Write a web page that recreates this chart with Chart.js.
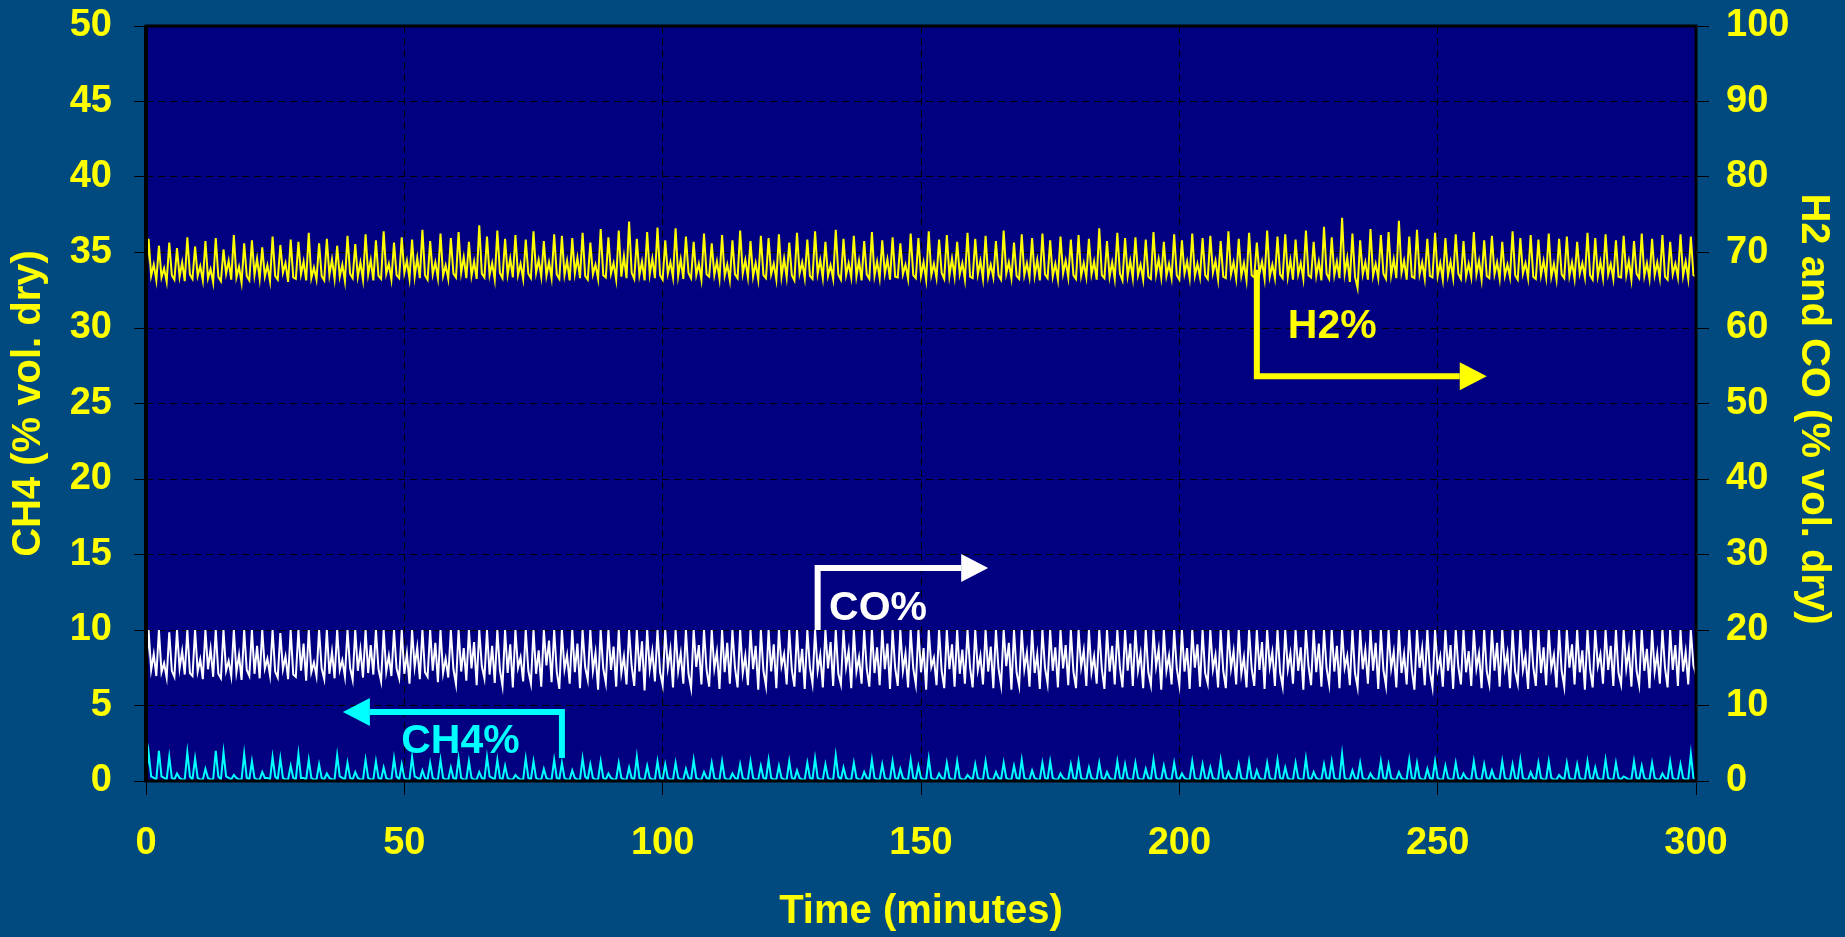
<!DOCTYPE html>
<html>
<head>
<meta charset="utf-8">
<title>Syngas composition</title>
<script src="https://cdn.jsdelivr.net/npm/chart.js@4.4.1/dist/chart.umd.min.js"></script>
<style>
  html, body { margin: 0; padding: 0; background: #004a80; }
  #wrap { width: 1845px; height: 937px; }
</style>
</head>
<body>
<div id="wrap"><canvas id="gasChart" width="1845" height="937"></canvas></div>
<script>
// one reading every half minute, 0 .. 300 min
const sampleStep = 0.5;

// H2 % vol. dry (right axis)
const h2 = [
  66.2,71.8,66.9,68.4,66.3,70.9,66.7,67.9,66.1,71.3,67.0,66.4,70.6,66.8,68.7,66.2,72.0,67.1,66.5,70.8,
  66.9,68.2,66.3,71.5,66.6,67.8,66.0,71.9,66.8,66.2,70.4,67.2,68.9,66.4,72.3,66.7,68.1,66.0,71.2,66.9,
  66.3,71.6,67.0,69.2,66.5,70.7,66.8,68.3,66.2,72.1,66.9,66.4,71.0,67.3,68.6,66.1,71.7,66.7,66.5,71.4,
  67.1,68.8,66.3,72.6,66.6,68.0,66.4,71.2,66.9,66.3,71.8,67.0,69.1,66.5,70.9,66.8,68.4,66.2,72.2,67.2,
  66.6,71.1,66.8,68.7,66.4,72.4,67.1,69.0,66.3,71.6,66.9,66.5,72.8,67.2,68.5,66.4,71.3,67.0,66.6,72.0,
  67.3,68.9,66.5,71.7,66.8,69.3,66.6,73.0,67.0,66.4,71.5,67.1,68.7,66.6,72.5,66.9,68.3,66.5,71.9,67.2,
  66.7,72.7,67.3,69.4,66.6,71.4,66.9,68.8,66.5,73.6,67.2,66.7,72.1,67.0,68.6,66.4,72.9,67.3,66.6,71.8,
  67.1,69.2,66.7,72.3,67.0,68.5,66.5,71.7,67.2,66.6,72.8,67.3,69.0,66.8,71.5,66.9,68.7,66.6,72.4,67.1,
  66.5,72.2,67.0,68.9,66.3,71.9,67.2,69.3,66.6,72.6,66.9,66.4,71.3,67.1,68.4,66.5,73.1,67.0,66.7,72.0,
  67.2,68.6,66.4,72.9,66.8,69.5,66.6,74.1,67.3,66.5,71.8,67.0,68.8,66.3,72.7,67.1,69.2,66.6,73.3,67.0,
  66.4,71.6,67.2,68.7,66.7,73.2,66.9,69.1,66.5,72.1,67.3,66.6,71.4,67.0,68.5,66.4,72.5,67.1,66.8,71.2,
  67.0,68.8,66.5,72.3,66.9,68.4,66.3,71.6,67.1,66.6,72.9,67.2,69.0,66.7,71.5,66.8,68.6,66.4,72.2,67.0,
  66.6,71.9,67.1,68.5,66.4,72.4,66.8,69.2,66.7,71.3,67.0,66.3,72.6,67.2,68.7,66.6,71.7,66.9,66.5,72.8,
  67.2,69.0,66.6,71.4,66.9,68.3,66.5,73.0,67.1,66.4,71.8,67.0,68.6,66.7,72.2,66.8,68.9,66.3,71.5,67.1,
  66.5,72.7,66.9,68.8,66.6,71.6,67.2,69.1,66.4,72.0,66.8,66.7,71.2,67.1,68.4,66.5,72.5,67.0,66.6,71.9,
  66.9,68.7,66.4,72.8,67.0,68.5,66.6,71.7,67.3,66.5,72.3,66.9,69.2,66.8,71.4,67.1,68.6,66.4,72.6,66.8,
  66.6,71.8,67.1,68.9,66.5,72.2,66.8,68.4,66.7,71.5,67.0,66.4,72.9,67.2,68.7,66.6,71.3,66.9,66.5,72.4,
  67.0,68.6,66.7,71.9,66.9,69.0,66.3,72.5,67.1,66.6,71.6,66.8,68.5,66.4,72.1,67.2,68.9,66.7,71.7,67.0,
  66.5,72.3,66.9,68.6,66.7,71.8,67.1,68.8,66.4,73.2,67.0,66.6,71.5,66.8,68.7,66.5,72.6,67.2,66.3,71.9,
  66.9,68.9,66.6,72.0,67.0,68.4,66.4,71.7,66.8,66.5,72.7,67.1,69.1,66.7,71.4,66.9,68.5,66.6,72.4,67.0,
  66.4,71.6,67.2,68.8,66.6,72.5,66.9,68.5,66.7,71.9,67.0,66.5,72.2,67.3,68.9,66.4,71.5,66.8,66.6,72.8,
  67.1,68.7,66.5,71.8,66.9,68.6,66.3,72.6,67.0,66.7,71.3,67.2,68.8,66.5,72.9,66.8,68.4,66.6,72.1,67.1,
  66.6,72.4,66.8,69.0,66.4,71.7,67.1,68.6,66.5,72.9,67.0,66.7,71.4,66.9,68.8,66.3,73.4,67.2,66.5,72.0,
  67.0,68.8,66.6,74.6,67.2,69.3,66.1,72.5,66.8,65.3,71.6,67.1,68.7,66.4,73.1,66.9,68.5,66.6,72.3,67.2,
  66.5,72.7,67.0,69.1,66.6,74.2,67.3,68.9,66.4,72.1,66.8,66.6,73.0,67.1,68.7,66.5,71.8,66.9,66.7,72.6,
  66.9,68.6,66.4,71.9,67.0,68.8,66.6,72.4,67.2,66.5,71.5,66.8,68.5,66.7,72.7,67.1,68.9,66.4,71.6,66.9,
  66.6,72.2,67.1,68.7,66.5,71.4,66.9,68.4,66.7,72.8,67.0,66.4,71.9,67.2,68.6,66.6,72.3,66.8,66.5,71.7,
  67.0,68.9,66.7,72.5,66.8,68.5,66.4,71.8,67.1,66.6,72.1,66.9,68.7,66.5,71.4,67.2,68.6,66.7,72.6,67.0,
  66.4,71.9,66.9,68.8,66.6,72.4,67.1,68.5,66.5,71.6,66.8,66.7,72.2,67.0,68.9,66.4,71.5,67.2,66.6,72.5,
  66.9,68.6,66.5,71.8,67.0,68.7,66.6,72.3,66.8,66.4,71.4,67.1,68.5,66.7,72.4,66.9,68.8,66.5,72.1,67.0,
  66.8
];

// CO % vol. dry (right axis)
const co = [
  13.6,20,14.7,16.8,13.9,20,14.4,15.6,13.7,19.7,14.6,13.8,20,14.9,17.2,14.1,20,14.3,13.9,20,
  14.5,16.1,13.5,20,14.8,17.5,13.8,20,14.2,13.6,20,14.6,15.9,13.9,20,14.4,16.7,13.4,20,14.7,
  13.9,20,14.2,17.9,13.6,20,14.9,16.2,14.0,20,14.5,13.7,19.6,14.8,16.5,13.5,20,14.1,13.8,20,
  14.6,18.2,13.3,20,14.4,15.7,13.9,20,14.9,13.5,20,14.2,17.1,13.6,20,14.7,16.0,13.8,20,15.0,
  13.4,20,14.6,17.4,13.7,20,14.3,18.0,14.1,20,14.8,13.2,20,14.5,16.6,13.9,20,14.9,13.6,20,
  14.2,16.9,12.9,20,15.1,17.7,13.5,20,14.4,13.8,20,14.6,18.3,13.1,20,14.3,16.2,13.7,20,14.8,
  12.8,20,14.5,17.6,13.3,20,14.9,18.4,12.7,20,15.2,13.6,20,14.1,17.9,13.0,20,14.7,12.6,20,
  14.3,18.1,12.4,20,15.0,16.4,13.2,20,14.6,12.9,20,14.2,17.3,12.5,20,15.3,18.6,13.1,20,14.5,
  12.2,20,14.8,16.7,12.9,20,14.4,18.2,12.3,20,15.1,13.4,20,14.6,17.0,12.1,20,14.9,13.0,20,
  14.7,17.8,12.5,20,14.3,16.5,12.8,20,15.2,12.6,20,14.5,18.5,12.0,20,14.8,17.2,13.2,20,14.4,
  12.7,20,15.0,17.4,12.4,20,14.6,16.9,12.9,20,14.2,12.3,20,15.1,18.0,12.8,20,14.7,12.5,20,
  14.9,17.1,12.2,20,14.4,18.3,12.9,20,15.0,12.4,20,14.3,16.6,12.7,20,14.8,17.9,12.1,20,14.6,
  12.6,20,14.5,18.1,12.3,20,15.2,16.8,12.8,20,14.7,12.5,20,14.4,17.5,12.2,20,15.0,12.9,20,
  14.6,16.7,12.4,20,14.9,18.4,12.6,20,14.2,12.8,20,15.1,17.3,12.3,20,14.5,16.4,12.9,20,14.8,
  12.5,20,14.3,17.7,12.7,20,14.8,18.2,12.2,20,15.0,12.6,20,14.6,16.9,12.4,20,14.9,12.8,20,
  14.4,17.6,12.1,20,15.1,16.3,12.7,20,14.6,12.3,20,14.8,18.1,12.5,20,14.2,17.4,12.9,20,15.0,
  12.4,20,14.7,16.6,12.8,20,14.5,17.8,12.3,20,14.9,12.7,20,15.2,18.3,12.1,20,14.4,12.6,20,
  14.8,17.0,12.5,20,14.3,16.8,12.2,20,15.0,12.9,20,14.6,17.7,12.4,20,14.9,18.0,12.7,20,14.5,
  12.3,20,15.1,17.3,12.6,20,14.4,16.5,12.9,20,14.8,12.2,20,14.5,17.9,12.8,20,15.0,12.4,20,
  14.6,18.2,12.6,20,14.7,16.9,12.3,20,14.4,12.7,20,15.2,17.5,12.1,20,14.6,16.6,12.8,20,14.9,
  12.7,20,14.5,17.6,12.2,20,15.0,18.1,12.5,20,14.3,12.9,20,14.8,16.7,12.4,20,14.6,12.3,20,
  14.9,17.2,12.8,20,14.2,16.4,12.4,20,14.9,12.6,20,14.7,18.4,12.2,20,15.1,17.1,12.6,20,14.4,
  12.5,20,14.8,16.9,12.9,20,14.6,17.7,12.1,20,15.2,12.7,20,14.4,18.2,12.5,20,14.9,12.8,20,
  14.5,17.9,12.3,20,15.0,16.6,12.7,20,14.3,12.4,20,14.8,17.4,12.9,20,14.6,18.3,12.2,20,14.7,
  12.6,20,14.9,17.1,12.4,20,14.3,16.8,12.8,20,14.7,12.1,20,15.0,17.6,12.7,20,14.5,12.4,20,
  14.8,16.5,12.5,20,14.6,18.0,12.2,20,15.1,12.8,20,14.4,17.2,12.6,20,14.9,16.9,12.3,20,14.5,
  12.8,20,14.6,18.3,12.5,20,15.0,17.0,12.3,20,14.5,12.9,20,14.7,16.6,12.2,20,15.1,12.6,20,
  14.3,17.7,12.7,20,14.9,16.7,12.4,20,14.6,12.5,20,15.0,18.1,12.8,20,14.4,17.3,12.1,20,14.8,
  12.4,20,15.2,16.8,12.9,20,14.7,17.9,12.6,20,14.3,12.8,20,14.9,17.4,12.5,20,14.6,12.7,20,
  14.6,17.5,12.3,20,14.5,16.9,12.9,20,15.0,12.4,20,14.7,18.0,12.6,20,14.5,17.1,12.8,20,15.3,
  14.1
];

// CH4 % vol. dry (left axis)
const ch4 = [
  0.2,1.9,0.3,0.2,0.1,2.0,0.3,0.2,0.1,1.6,0.2,0.1,0.5,0.2,0.1,0.1,1.9,0.3,0.1,1.5,
  0.2,0.1,0.1,0.8,0.2,0.1,0.1,2.0,0.3,0.1,1.9,0.3,0.2,0.1,0.4,0.2,0.1,0.1,1.8,0.2,
  0.1,1.3,0.2,0.1,0.1,0.6,0.2,0.2,0.1,1.6,0.3,0.1,1.5,0.2,0.1,0.1,1.0,0.2,0.1,1.8,
  0.2,0.2,0.1,1.4,0.2,0.1,0.1,1.1,0.2,0.1,0.5,0.2,0.1,0.1,1.7,0.3,0.2,0.1,1.2,0.2,
  0.1,0.6,0.2,0.1,0.1,1.4,0.2,0.1,0.1,1.3,0.2,0.1,0.9,0.2,0.1,0.1,1.5,0.3,0.1,1.1,
  0.2,0.1,0.1,1.6,0.3,0.2,0.1,0.7,0.2,0.1,1.2,0.2,0.1,0.1,1.4,0.2,0.1,0.1,0.9,0.2,
  0.1,1.5,0.2,0.1,0.1,1.3,0.2,0.1,0.1,0.6,0.2,0.1,1.6,0.3,0.2,0.1,1.4,0.2,0.1,1.0,
  0.2,0.1,0.1,0.4,0.2,0.1,0.1,1.5,0.2,0.1,1.3,0.2,0.1,0.1,0.8,0.2,0.1,0.1,1.4,0.2,
  0.1,1.2,0.2,0.1,0.1,0.7,0.2,0.1,0.1,1.5,0.3,0.1,1.1,0.2,0.1,0.1,1.3,0.2,0.1,0.5,
  0.2,0.1,0.1,1.2,0.2,0.1,0.1,0.9,0.2,0.1,1.6,0.2,0.1,0.1,1.0,0.2,0.1,0.1,1.3,0.2,
  0.1,1.1,0.2,0.1,0.1,1.2,0.2,0.1,0.1,0.8,0.2,0.1,1.4,0.2,0.1,0.1,0.6,0.2,0.1,1.2,
  0.2,0.1,0.1,1.3,0.2,0.1,0.1,0.5,0.2,0.1,1.1,0.2,0.1,0.1,1.3,0.2,0.1,0.1,1.0,0.2,
  0.1,1.4,0.2,0.1,0.1,1.0,0.2,0.1,0.1,1.3,0.2,0.1,0.7,0.2,0.1,0.1,1.2,0.2,0.1,1.5,
  0.2,0.1,0.1,1.1,0.2,0.1,0.1,1.7,0.3,0.1,0.9,0.2,0.1,0.1,1.2,0.2,0.1,0.1,0.6,0.2,
  0.1,1.4,0.2,0.1,0.1,1.1,0.2,0.1,0.1,1.3,0.2,0.1,0.8,0.2,0.1,0.1,1.4,0.2,0.1,1.0,
  0.2,0.1,0.1,1.5,0.2,0.1,0.1,0.5,0.2,0.1,1.2,0.2,0.1,0.1,1.3,0.2,0.1,0.1,0.4,0.2,
  0.1,1.1,0.2,0.1,0.1,1.3,0.2,0.1,0.1,0.6,0.2,0.1,1.2,0.2,0.1,0.1,1.0,0.2,0.1,1.4,
  0.2,0.1,0.1,0.7,0.2,0.1,0.1,1.2,0.2,0.1,1.3,0.2,0.1,0.1,0.5,0.2,0.1,0.1,1.1,0.2,
  0.1,1.3,0.2,0.1,0.1,0.9,0.2,0.1,0.1,1.2,0.2,0.1,0.6,0.2,0.1,0.1,1.3,0.2,0.1,1.1,
  0.2,0.1,0.1,1.2,0.2,0.1,0.1,0.8,0.2,0.1,1.4,0.2,0.1,0.1,1.0,0.2,0.1,0.1,1.2,0.2,
  0.1,0.5,0.2,0.1,0.1,1.3,0.2,0.1,0.1,1.1,0.2,0.1,0.9,0.2,0.1,0.1,1.4,0.2,0.1,0.6,
  0.2,0.1,0.1,1.1,0.2,0.1,0.1,1.3,0.2,0.1,0.7,0.2,0.1,0.1,1.2,0.2,0.1,0.1,1.4,0.2,
  0.1,0.9,0.2,0.1,0.1,1.2,0.2,0.1,0.1,1.5,0.2,0.1,0.6,0.2,0.1,0.1,1.1,0.2,0.1,1.3,
  0.2,0.1,0.1,1.8,0.2,0.1,0.1,0.7,0.2,0.1,1.2,0.2,0.1,0.1,0.5,0.2,0.1,0.1,1.3,0.2,
  0.1,1.1,0.2,0.1,0.1,0.6,0.2,0.1,0.1,1.4,0.2,0.1,1.2,0.2,0.1,0.1,0.8,0.2,0.1,1.3,
  0.2,0.1,0.1,1.0,0.2,0.1,0.1,1.2,0.2,0.1,0.5,0.2,0.1,0.1,1.3,0.2,0.1,0.1,1.1,0.2,
  0.1,0.7,0.2,0.1,0.1,1.3,0.2,0.1,0.1,1.1,0.2,0.1,1.4,0.2,0.1,0.1,0.6,0.2,0.1,1.2,
  0.2,0.1,0.1,1.3,0.2,0.1,0.1,0.4,0.2,0.1,1.2,0.2,0.1,0.1,1.1,0.2,0.1,0.1,1.3,0.2,
  0.1,0.9,0.2,0.1,0.1,1.4,0.2,0.1,0.1,1.2,0.2,0.1,0.3,0.2,0.1,0.1,1.3,0.2,0.1,1.0,
  0.2,0.1,0.1,1.2,0.2,0.1,0.1,0.5,0.2,0.1,1.3,0.2,0.1,0.1,1.1,0.2,0.1,0.1,1.8,0.2,
  0.1
];

const timeTicks = [0, 50, 100, 150, 200, 250, 300];
const ch4Ticks = [0, 5, 10, 15, 20, 25, 30, 35, 40, 45, 50];
const gasTicks = [0, 10, 20, 30, 40, 50, 60, 70, 80, 90, 100];

const YELLOW = '#ffff00';
const CYAN = '#00ffff';

// bent arrows with their labels, in data units (time, axis value)
const notes = [
  { text: 'H2%', color: YELLOW, axis: 'yRight', path: [[215, 67.7], [215, 53.6], [259.5, 53.6]], at: [221, 58.7] },
  { text: 'CO%', color: '#ffffff', axis: 'yRight', path: [[130, 20], [130, 28.2], [163, 28.2]], at: [132.2, 21.3] },
  { text: 'CH4%', color: CYAN, axis: 'yLeft', path: [[80.5, 1.52], [80.5, 4.57], [38.1, 4.57]], at: [49.4, 1.85] }
];

const toPoints = arr => arr.map((v, i) => ({ x: i * sampleStep, y: v }));

// keep the plot box where the original has it, whatever the label sizes
const fixWidth = w => s => { s.width = w; s.paddingTop = 0; s.paddingBottom = 0; };

const plotFrame = {
  id: 'plotFrame',
  beforeDraw(chart) {
    const { ctx, chartArea: a } = chart;
    ctx.save();
    ctx.fillStyle = '#000080';
    ctx.fillRect(a.left, a.top, a.right - a.left, a.bottom - a.top);
    ctx.restore();
  },
  afterDatasetsDraw(chart) {
    const { ctx, chartArea: a, scales } = chart;
    ctx.save();
    ctx.strokeStyle = '#000000';
    ctx.lineWidth = 3;
    ctx.strokeRect(a.left, a.top, a.right - a.left, a.bottom - a.top);
    ctx.lineWidth = 4;
    ctx.beginPath();
    ctx.moveTo(a.left, a.top);
    ctx.lineTo(a.left, a.bottom);
    ctx.stroke();

    notes.forEach(n => {
      const ys = scales[n.axis];
      const pts = n.path.map(p => [scales.x.getPixelForValue(p[0]), ys.getPixelForValue(p[1])]);
      const tip = pts[pts.length - 1];
      const prev = pts[pts.length - 2];
      const dx = tip[0] - prev[0], dy = tip[1] - prev[1];
      const len = Math.hypot(dx, dy);
      const ux = dx / len, uy = dy / len;
      const headLen = 27, headHalf = 14;
      const base = [tip[0] - ux * headLen, tip[1] - uy * headLen];

      ctx.strokeStyle = n.color;
      ctx.fillStyle = n.color;
      ctx.lineWidth = 6;
      ctx.lineJoin = 'miter';
      ctx.lineCap = 'butt';
      ctx.beginPath();
      ctx.moveTo(pts[0][0], pts[0][1]);
      for (let i = 1; i < pts.length - 1; i++) ctx.lineTo(pts[i][0], pts[i][1]);
      ctx.lineTo(base[0], base[1]);
      ctx.stroke();

      ctx.beginPath();
      ctx.moveTo(tip[0], tip[1]);
      ctx.lineTo(base[0] - uy * headHalf, base[1] + ux * headHalf);
      ctx.lineTo(base[0] + uy * headHalf, base[1] - ux * headHalf);
      ctx.closePath();
      ctx.fill();

      ctx.font = 'bold 41px "Liberation Sans", Arial, sans-serif';
      ctx.textAlign = 'left';
      ctx.textBaseline = 'alphabetic';
      ctx.fillText(n.text, scales.x.getPixelForValue(n.at[0]), ys.getPixelForValue(n.at[1]));
    });
    ctx.restore();
  }
};

Chart.defaults.font.family = '"Liberation Sans", Arial, sans-serif';
Chart.defaults.font.weight = 'bold';
Chart.defaults.color = YELLOW;

const tickFont = { size: 38, weight: 'bold' };
const titleFont = { size: 40, weight: 'bold' };

new Chart(document.getElementById('gasChart'), {
  type: 'line',
  data: {
    datasets: [
      { label: 'H2%', data: toPoints(h2), yAxisID: 'yRight', borderColor: YELLOW, borderWidth: 2, pointRadius: 0, tension: 0 },
      { label: 'CO%', data: toPoints(co), yAxisID: 'yRight', borderColor: '#ffffff', borderWidth: 2, pointRadius: 0, tension: 0 },
      { label: 'CH4%', data: toPoints(ch4), yAxisID: 'yLeft', borderColor: CYAN, borderWidth: 2, pointRadius: 0, tension: 0 }
    ]
  },
  options: {
    responsive: false,
    animation: false,
    devicePixelRatio: 1,
    layout: { padding: { top: 26, left: 0, right: 0, bottom: 0 } },
    plugins: { legend: { display: false }, tooltip: { enabled: false } },
    scales: {
      x: {
        type: 'linear',
        min: 0, max: 300,
        afterBuildTicks: s => { s.ticks = timeTicks.map(v => ({ value: v })); },
        afterFit: s => { s.height = 156; },
        ticks: { color: YELLOW, font: tickFont, padding: 26, maxRotation: 0, autoSkip: false },
        grid: { color: '#000000', lineWidth: 1, tickLength: 14, tickColor: '#000000', tickBorderDash: [] },
        border: { display: false, dash: [7, 5] },
        title: { display: true, text: 'Time (minutes)', color: YELLOW, font: titleFont, padding: { top: 0, bottom: 1 } }
      },
      yLeft: {
        position: 'left',
        min: 0, max: 50,
        afterBuildTicks: s => { s.ticks = ch4Ticks.map(v => ({ value: v })); },
        afterFit: fixWidth(146),
        ticks: { color: YELLOW, font: tickFont, padding: 22 },
        grid: { color: '#000000', lineWidth: 1, tickLength: 12, tickColor: '#000000', tickBorderDash: [] },
        border: { display: false, dash: [7, 5] },
        title: { display: true, text: 'CH4 (% vol. dry)', color: YELLOW, font: titleFont, padding: { top: 5, bottom: 0 } }
      },
      yRight: {
        position: 'right',
        min: 0, max: 100,
        afterBuildTicks: s => { s.ticks = gasTicks.map(v => ({ value: v })); },
        afterFit: fixWidth(149),
        ticks: { color: YELLOW, font: tickFont, padding: 17 },
        grid: { drawOnChartArea: false, color: '#000000', tickLength: 13, tickColor: '#000000', tickBorderDash: [] },
        border: { display: false },
        // leading space nudges the rotated title a little lower, as in the original
        title: { display: true, text: ' H2 and CO (% vol. dry)', color: YELLOW, font: titleFont, padding: { top: 8, bottom: 0 } }
      }
    }
  },
  plugins: [plotFrame]
});
</script>
</body>
</html>
